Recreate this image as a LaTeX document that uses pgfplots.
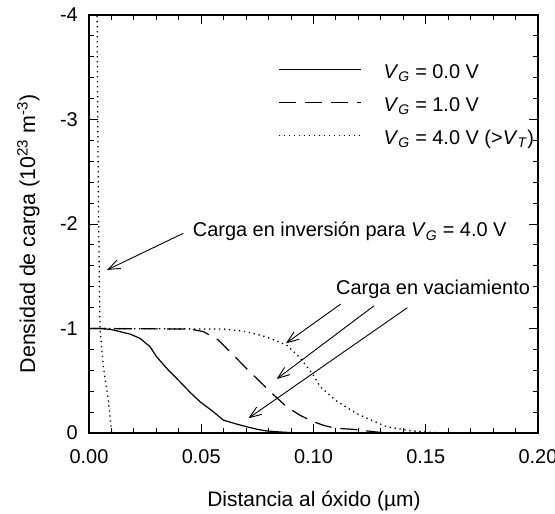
\documentclass[border=0pt]{standalone}
\usepackage{fontspec}
\setmainfont{Liberation Sans}
\usepackage{pgfplots}
\pgfplotsset{compat=1.18}
\usetikzlibrary{arrows.meta}
\newcommand\VG{\textit{V}\textsubscript{\textit{G}}}
\newcommand\VT{\textit{V}\textsubscript{\textit{T}}}
\tikzset{
  dotline/.style={line width=1.3bp, dash pattern=on 1.3bp off 3.7bp},
  dashline/.style={line width=1.2bp, dash pattern=on 17bp off 9bp},
  solidline/.style={line width=1.2bp},
  annarrow/.style={line width=0.9bp, -{Straight Barb[length=12bp,width=9bp]}},
}
\begin{document}
\begin{tikzpicture}
\begin{axis}[
  scale only axis,
  width=449bp, height=418bp,
  xmin=0, xmax=0.2,
  ymin=-4, ymax=0,
  y dir=reverse,
  xtick={0,0.05,0.1,0.15,0.2},
  xticklabels={0.00,0.05,0.10,0.15,0.20},
  ytick={-4,-3,-2,-1,0},
  yticklabels={-4,-3,-2,-1,0},
  minor x tick num=4,
  minor y tick num=4,
  tick align=inside,
  major tick length=9bp,
  minor tick length=5bp,
  axis line style={line width=1.3bp},
  tick style={line width=1bp, black},
  xticklabel style={inner sep=0pt, yshift=-16bp, font=\fontsize{20}{23}\selectfont},
  yticklabel style={inner sep=0pt, xshift=-11bp, font=\fontsize{20}{23}\selectfont},
  xlabel={Distancia al óxido (µm)},
  ylabel={Densidad de carga (10\textsuperscript{23} m\textsuperscript{-3})},
  every axis x label/.style={at={(axis description cs:0.501,-0.177)}, anchor=base, inner sep=0pt, font=\fontsize{21}{25}\selectfont},
  every axis y label/.style={at={(axis description cs:-0.120,0.476)}, rotate=90, anchor=base, inner sep=0pt, font=\fontsize{21.5}{25}\selectfont},
  legend style={draw=none, fill=none, at={(axis cs:0.0842,-3.525)}, anchor=north west,
    inner sep=0pt, row sep=14bp, column sep=22bp, font=\fontsize{20}{24}\selectfont,
    nodes={inner sep=0pt, text height=14bp, text depth=5bp}},
  legend cell align=left,
  legend image code/.code={\draw[#1] (0bp,5bp) -- (82bp,5bp);},
]
\addplot[solidline] coordinates {
(0,-1) (0.005,-1) (0.010,-0.99) (0.0138,-0.97) (0.0185,-0.945) (0.0227,-0.906)
(0.0272,-0.826) (0.0301,-0.73) (0.035,-0.61) (0.0405,-0.49) (0.045,-0.39)
(0.0494,-0.30) (0.055,-0.21) (0.0598,-0.124) (0.065,-0.09) (0.0702,-0.06)
(0.075,-0.035) (0.079,-0.02) (0.085,-0.01) (0.09,-0.004) (0.10,0) (0.2,0)};
\addlegendentry{\VG{} = 0.0 V}
\addplot[dashline] coordinates {
(0,-1) (0.045,-0.995) (0.051,-0.97) (0.0576,-0.89) (0.0643,-0.746) (0.070,-0.62)
(0.0762,-0.49) (0.082,-0.37) (0.088,-0.25) (0.094,-0.17) (0.0999,-0.108)
(0.105,-0.07) (0.110,-0.045) (0.1177,-0.035) (0.1237,-0.02) (0.13,-0.005)
(0.14,0) (0.2,0)};
\addlegendentry{\VG{} = 1.0 V}
\addplot[dotline] coordinates {
(0,-1) (0.06,-0.995) (0.070,-0.97) (0.079,-0.92) (0.088,-0.842) (0.094,-0.72)
(0.0999,-0.555) (0.103,-0.443) (0.110,-0.31) (0.119,-0.188) (0.124,-0.14)
(0.1326,-0.06) (0.143,-0.022) (0.153,-0.005) (0.16,0) (0.2,0)};
\addlegendentry{\VG{} = 4.0 V (>\VT)}
\addplot[dotline, forget plot] coordinates {
(0.0030,-6) (0.0036,-4) (0.0039,-3) (0.0043,-2) (0.0049,-1) (0.0064,-0.635)
(0.0086,-0.316) (0.0101,0)};

\node[anchor=base west, inner sep=0pt, font=\fontsize{20}{24}\selectfont]
  at (axis cs:0.0462,-1.876) {Carga en inversión para \VG{} = 4.0 V};
\draw[annarrow] (axis cs:0.0420,-1.911) -- (axis cs:0.0080,-1.560);
\node[anchor=base west, inner sep=0pt, font=\fontsize{20}{24}\selectfont]
  at (axis cs:0.1100,-1.321) {Carga en vaciamiento};
\draw[annarrow] (axis cs:0.1121,-1.234) -- (axis cs:0.0877,-0.858);
\draw[annarrow] (axis cs:0.1270,-1.218) -- (axis cs:0.0836,-0.517);
\draw[annarrow] (axis cs:0.1418,-1.199) -- (axis cs:0.0710,-0.141);
\end{axis}
\pgfresetboundingbox
\path (current axis.south west) ++(-89bp,-81bp) rectangle ++(555bp,514bp);
\end{tikzpicture}
\end{document}
